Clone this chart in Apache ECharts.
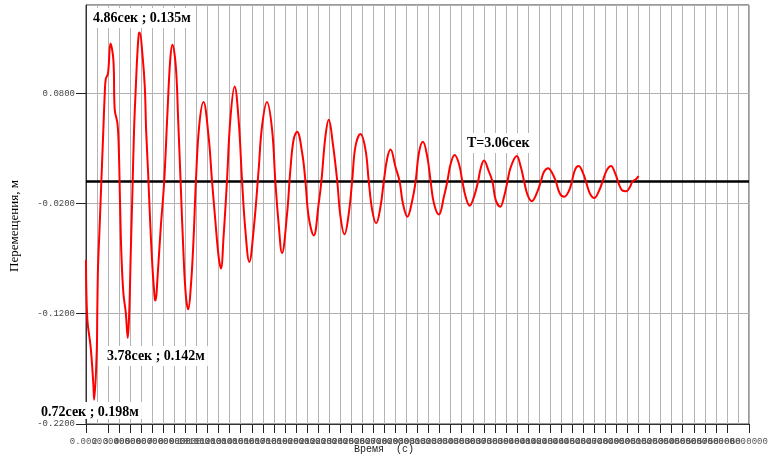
<!DOCTYPE html>
<html>
<head>
<meta charset="utf-8">
<script src="https://cdn.jsdelivr.net/npm/echarts@6/dist/echarts.min.js"></script>
<style>
html,body{margin:0;padding:0;background:#fff;}
#chart{width:771px;height:460px;}
</style>
</head>
<body>
<div id="chart"></div>
<script>
// Time, s
const time = [0, 0.12, 0.42, 0.66, 0.74, 0.97, 1.02, 1.09, 1.21, 1.39,
  1.57, 1.70, 1.79, 1.99, 2.22, 2.48, 2.60, 2.84, 2.96, 3.08,
  3.20, 3.38, 3.60, 3.78, 3.92, 4.05, 4.20, 4.35, 4.51, 4.65,
  4.78, 4.86, 5.10, 5.32, 5.44, 5.62, 5.80, 6.01, 6.23, 6.30,
  6.46, 6.77, 7.07, 7.37, 7.62, 7.82, 8.13, 8.34, 8.58, 8.82,
  9.04, 9.25, 9.49, 9.73, 9.95, 10.24, 10.63, 11.09, 11.40, 11.70,
  12.00, 12.21, 12.45, 12.76, 13.06, 13.45, 13.81, 14.12, 14.42, 14.78,
  15.17, 15.62, 15.93, 16.38, 16.84, 17.13, 17.43, 17.74, 18.20, 18.49,
  18.79, 19.10, 19.56, 19.85, 20.15, 20.61, 21.06, 21.31, 21.67, 21.97,
  22.33, 22.73, 23.03, 23.39, 23.78, 24.09, 24.39, 24.84, 25.29, 25.59,
  25.90, 26.26, 26.65, 26.95, 27.26, 27.56, 28.01, 28.38, 28.68, 29.08,
  29.53, 29.83, 30.13, 30.49, 30.89, 31.19, 31.49, 31.94, 32.39, 32.70,
  33.00, 33.36, 33.75, 34.06, 34.36, 34.72, 35.11, 35.48, 35.72, 36.02,
  36.42, 36.78, 37.08, 37.49, 37.83, 38.14, 38.44, 38.98, 39.35, 39.65,
  39.95, 40.34, 40.86, 41.16, 41.46, 41.82, 42.22, 42.52, 42.88, 43.27,
  43.73, 43.97, 44.27, 44.58, 45.00, 45.30, 45.60, 45.99, 46.45, 46.75,
  47.12, 47.51, 47.90, 48.21, 48.51, 48.87, 49.17, 49.47, 49.77, 50.00];

// Displacement, m
const disp = [-0.071, -0.125, -0.150, -0.183, -0.198, -0.155, -0.119, -0.077, -0.047, 0.000,
  0.047, 0.080, 0.093, 0.098, 0.125, 0.110, 0.065, 0.053, 0.032, -0.019,
  -0.065, -0.101, -0.119, -0.142, -0.116, -0.065, -0.010, 0.047, 0.086, 0.116,
  0.134, 0.135, 0.116, 0.086, 0.047, 0.008, -0.035, -0.077, -0.107, -0.108,
  -0.089, -0.041, -0.001, 0.062, 0.110, 0.124, 0.104, 0.056, -0.005, -0.065,
  -0.104, -0.116, -0.095, -0.053, 0.001, 0.050, 0.072, 0.041, 0.001, -0.035,
  -0.068, -0.079, -0.050, 0.001, 0.056, 0.086, 0.056, 0.001, -0.044, -0.073,
  -0.044, 0.010, 0.050, 0.072, 0.047, 0.001, -0.038, -0.065, -0.029, 0.010,
  0.038, 0.045, 0.026, 0.001, -0.032, -0.049, -0.020, 0.001, 0.041, 0.056,
  0.035, 0.001, -0.032, -0.048, -0.029, 0.001, 0.032, 0.043, 0.029, 0.000,
  -0.026, -0.038, -0.023, 0.000, 0.021, 0.029, 0.013, 0.000, -0.020, -0.032,
  -0.017, 0.000, 0.026, 0.036, 0.022, 0.000, -0.020, -0.030, -0.014, 0.000,
  0.016, 0.024, 0.016, 0.000, -0.014, -0.022, -0.014, 0.000, 0.012, 0.019,
  0.010, 0.000, -0.017, -0.023, -0.014, 0.000, 0.013, 0.023, 0.013, 0.000,
  -0.012, -0.018, -0.009, 0.000, 0.009, 0.012, 0.007, 0.000, -0.011, -0.014,
  -0.008, 0.000, 0.011, 0.014, 0.007, -0.002, -0.011, -0.015, -0.008, 0.000,
  0.010, 0.014, 0.007, -0.002, -0.008, -0.009, -0.006, 0.000, 0.002, 0.005];

const annotations = ['4.86сек ; 0.135м', '3.78сек ; 0.142м', '0.72сек ; 0.198м', 'T=3.06сек'];
const xAxisTitle = 'Время  (с)';
const yAxisTitle = 'Перемещения, м';

const chart = echarts.init(document.getElementById('chart'), null, {renderer: 'canvas'});

const annoPos = [[90, 8], [104, 346], [38, 402], [464, 133]];
const annoPad = [[3, 3, 3, 3], [3, 3, 3, 3], [3, 3, 0, 3], [3, 3, 3, 3]];
const annoFont = 'bold 14px "Liberation Serif", "Times New Roman", serif';

const graphics = annotations.map((t, i) => ({
  type: 'text',
  x: annoPos[i][0],
  y: annoPos[i][1],
  z: 100,
  style: {
    text: t,
    font: annoFont,
    fill: '#000',
    backgroundColor: '#fff',
    padding: annoPad[i]
  }
}));
graphics.push({
  type: 'text', x: 15, y: 226, rotation: Math.PI / 2, z: 100,
  style: {text: yAxisTitle, font: '13px "Liberation Serif", "Times New Roman", serif',
    fill: '#000', align: 'center', verticalAlign: 'middle'}
});
graphics.push({
  type: 'text', x: 384, y: 449, z: 100,
  style: {text: xAxisTitle, font: '10px "Liberation Mono", "DejaVu Sans Mono", monospace',
    fill: '#222', align: 'center', verticalAlign: 'middle'}
});

chart.setOption({
  animation: false,
  backgroundColor: '#fff',
  grid: {left: 86, right: 22, top: 5, bottom: 36, show: true, borderColor: '#333', borderWidth: 1, containLabel: false},
  xAxis: {
    type: 'value', min: 0, max: 60, interval: 1,
    axisLine: {show: true, onZero: false, lineStyle: {color: '#333', width: 1}},
    axisTick: {show: true, length: 9, lineStyle: {color: '#222'}},
    axisLabel: {
      formatter: v => v.toFixed(4),
      fontFamily: '"Liberation Mono", "DejaVu Sans Mono", monospace', fontSize: 9,
      color: '#555', margin: 13, hideOverlap: false,
      showMinLabel: true, showMaxLabel: true
    },
    splitLine: {show: true, lineStyle: {color: '#b4b4b4', width: 1}}
  },
  yAxis: {
    type: 'value', min: -0.22, max: 0.16, interval: 0.1,
    axisLine: {show: true, onZero: false, lineStyle: {color: '#333', width: 1}},
    axisTick: {show: true, length: 10, lineStyle: {color: '#222'}},
    axisLabel: {
      formatter: v => v.toFixed(4), showMaxLabel: false, showMinLabel: true,
      fontFamily: '"Liberation Mono", "DejaVu Sans Mono", monospace', fontSize: 9,
      color: '#444', margin: 11
    },
    splitLine: {show: true, lineStyle: {color: '#b0b0b0', width: 1}}
  },
  graphic: graphics,
  series: [
    {
      type: 'line', data: [], z: 1,
      markLine: {
        silent: true, symbol: 'none', animation: false,
        label: {show: false},
        lineStyle: {color: '#000', width: 2.5, type: 'solid'},
        data: [{yAxis: 0}]
      }
    },
    {
      type: 'line', z: 5,
      data: time.map((t, i) => [t, disp[i]]),
      showSymbol: false, smooth: 0.4,
      lineStyle: {color: '#ff0000', width: 2},
      itemStyle: {color: '#ff0000'}
    }
  ]
});
</script>
</body>
</html>
